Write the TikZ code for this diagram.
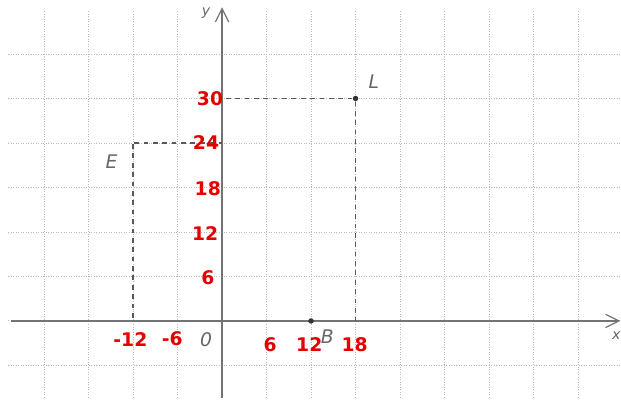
\documentclass[tikz,border=0pt]{standalone}
\usepackage{fontspec}
\setsansfont{DejaVu Sans}
\usetikzlibrary{arrows.meta,positioning}

\begin{document}
\begin{tikzpicture}[>={Straight Barb[length=3mm,width=3mm]},
    gridline/.style={gray!55, densely dotted, line width=0.6pt},
    axis/.style={gray!90!black, line width=0.8pt},
    guide/.style={gray!70!black, dashed, line width=0.8pt},
    pt/.style={circle, fill=black!80, inner sep=0pt, minimum size=3.5pt},
    lbl/.style={text=gray!80!black, font=\sffamily\itshape\large},
    num/.style={text=red!90!black, font=\sffamily\bfseries\large}]
    \useasboundingbox (-4.99,-1.933) rectangle (8.966,7.213);

    \foreach \x in {-4,...,8}
        \draw [gridline] (\x,-1.72) -- (\x,6.97);
    \foreach \y in {-1,...,6}
        \draw [gridline] (-4.8,\y) -- (8.966,\y);

    \coordinate (xstart) at (-4.75,0);
    \coordinate (xend) at (8.95,0);
    \coordinate (ystart) at (0,-1.72);
    \coordinate (yend) at (0,7.05);
    \draw [axis,->] (xstart) -- (xend);
    \draw [axis,->] (ystart) -- (yend);
    \node [lbl, font=\sffamily\itshape\small] (ylabel) at (-0.36,6.92) {y};
    \node [lbl, font=\sffamily\itshape\small] (xlabel) at (8.86,-0.32) {x};
    \node [lbl] (origin) at (-0.36,-0.42) {0};

    \node [pt, name=L] at (3,5) {};
    \node [pt, name=B] at (2,0) {};
    \node [inner sep=0pt, name=E] at (-2,4) {};
    \coordinate (Ly) at (0,5);
    \coordinate (Lx) at (3,0);
    \coordinate (Ey) at (0,4);
    \coordinate (Ex) at (-2,0);
    \draw [guide] (L) -- (Ly);
    \draw [guide] (L) -- (Lx);
    \draw [guide] (E) -- (Ey);
    \draw [guide] (E) -- (Ex);

    \node [lbl, above right=0.05cm and 0.12cm of L] (Llabel) {L};
    \node [lbl, below left=0.12cm and 0.2cm of E] (Elabel) {E};
    \node [lbl, below right=0.02cm and 0.05cm of B] (Blabel) {B};

    \node [num] (n30) at (-0.27,5) {30};
    \node [num] (n24) at (-0.36,4) {24};
    \node [num] (n18) at (-0.32,2.98) {18};
    \node [num] (n12) at (-0.38,1.96) {12};
    \node [num] (n6) at (-0.32,0.98) {6};
    \node [num] (nm12) at (-2.06,-0.42) {-12};
    \node [num] (nm6) at (-1.12,-0.4) {-6};
    \node [num] (p6) at (1.08,-0.54) {6};
    \node [num] (p12) at (1.96,-0.54) {12};
    \node [num] (p18) at (2.98,-0.54) {18};
\end{tikzpicture}
\end{document}
